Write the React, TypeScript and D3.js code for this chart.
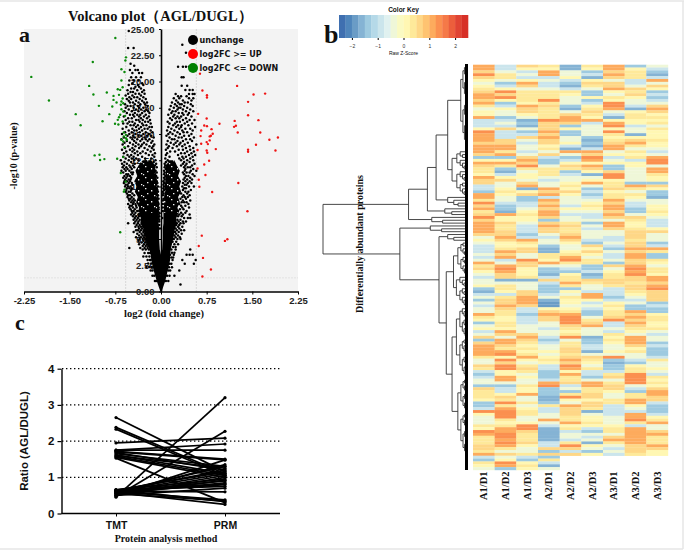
import { useEffect, useRef } from 'react';
import * as d3 from 'd3';

// ---- panel a: volcano ----
const volcanoXTicks = [-2.25, -1.5, -0.75, 0, 0.75, 1.5, 2.25];
const volcanoYTicks = [0, 2.5, 5, 7.5, 10, 12.5, 15, 17.5, 20, 22.5, 25];

const upPoints = [
  [0.64, 20.75], [0.68, 19.14], [0.755, 18.69], [0.755, 18.47], [1.25, 19.58], [1.52, 18.76], [1.71, 18.85],
  [1.43, 18.06], [0.61, 16.92], [1.43, 16.79], [0.75, 16.48], [1.6, 16.32], [1.21, 16.25], [0.96, 15.97],
  [0.71, 15.81], [0.755, 15.75], [1.23, 15.78], [1.2, 15.68], [0.83, 15.46], [0.66, 15.34], [1.26, 15.15],
  [1.63, 15.15], [0.85, 15.02], [0.82, 14.83], [0.65, 14.8], [0.8, 14.77], [1.78, 14.45], [1.92, 14.67],
  [0.8, 14.39], [0.75, 14.23], [0.66, 14.07], [0.77, 14.04], [1.56, 13.97], [0.6, 13.47], [0.9, 13.56],
  [0.75, 13.43], [0.76, 13.21], [1.43, 13.5], [1.43, 13.31], [1.88, 13.43], [0.79, 12.45], [0.71, 12.1],
  [0.6, 11.72], [0.73, 11.09], [0.62, 10.65], [1.27, 10.33], [0.63, 9.98], [0.84, 9.47], [1.42, 7.64],
  [0.67, 5.32], [1.09, 4.97], [1.05, 4.82], [0.62, 4.34], [0.69, 3.2], [0.82, 2.09], [0.68, 1.43],
];

const downPoints = [
  [-0.75, 24.14], [-1.12, 21.86], [-0.575, 22.3], [-0.585, 22.0], [-2.13, 20.44], [-0.65, 21.17], [-0.6, 20.91],
  [-0.65, 20.09], [-1.18, 19.58], [-0.63, 19.45], [-0.71, 19.26], [-0.67, 19.2], [-0.89, 18.95], [-1.11, 18.76],
  [-0.78, 18.63], [-0.69, 18.73], [-0.63, 18.38], [-0.65, 18.09], [-0.62, 17.93], [-0.66, 17.78], [-0.78, 18.25],
  [-0.73, 18.0], [-1.84, 18.19], [-1.02, 17.68], [-0.8, 17.62], [-0.65, 17.36], [-0.62, 17.14], [-0.67, 16.83],
  [-1.4, 16.89], [-0.85, 16.89], [-0.69, 16.6], [-0.71, 16.35], [-0.59, 16.73], [-0.63, 16.19], [-0.96, 16.22],
  [-0.755, 15.97], [-0.7, 15.91], [-1.32, 15.84], [-0.61, 15.15], [-0.575, 14.92], [-0.61, 14.77], [-0.575, 14.6],
  [-0.65, 14.45], [-0.62, 14.29], [-0.56, 14.45], [-0.6, 13.75], [-1.09, 12.96], [-1.01, 13.02], [-1.0, 12.52],
  [-0.93, 12.61], [-0.72, 12.64], [-0.62, 12.8], [-0.66, 11.28], [-0.58, 10.46], [-0.6, 9.7], [-0.61, 9.51],
  [-0.67, 5.64],
];

// unchanged proteins, each row: -log10 p, then |fold change| in hundredths
const leftArmRows = [
  '24.8 53', '23.2 45 54', '21.7 50', '21.5 44', '21.1 38 42 51', '20.8 36 47 31', '20.4 33 41 49', '20.1 45 52 37',
  '19.83 47 31', '19.67 53 38 29', '19.5 42 36', '19.33 49 33 44', '19.17 55 39 28', '19 50 31 46',
  '18.83 54 42 36 27', '18.67 58 47 33', '18.5 44 29 52 39', '18.33 49 25 56 35', '18.17 41 31 53', '18 46 28 37 51 23',
  '17.83 59 43 34 26', '17.67 50 38 22 55', '17.5 45 29 58 36', '17.33 53 41 24 33', '17.17 48 37 27 60 21', '17 56 43 31 19',
  '16.83 51 39 25 46 34', '16.67 61 44 28 36 20', '16.5 54 33 48 23', '16.33 58 41 30 18 37', '16.17 47 35 26 52 21', '16 62 43 31 17 55',
  '15.83 50 38 24 45 29', '15.67 57 33 19 41 15', '15.5 63 47 27 36 22', '15.33 53 40 31 17 44', '15.17 59 35 25 14 48', '15 64 42 29 20 52',
  '14.83 55 37 23 46 16 32', '14.67 61 43 27 12 50', '14.5 65 39 31 19 47 25', '14.33 56 34 22 44 14', '14.17 60 41 28 16 51', '14 63 37 24 11 46 31',
  '13.83 54 42 19 33 13', '13.67 59 36 27 47 15', '13.5 64 44 22 12 51', '13.33 57 39 30 17 47', '13.17 61 34 25 10 43', '13 55 49 38 20 14',
  '12.83 62 45 31 11 52', '12.67 58 41 26 16 48', '12.5 66 53 37 9 44', '12.33 60 49 28 12', '12.17 56 43 33 8 64', '12 61 52 46 10',
  '11.83 63 50 44 7 57', '11.67 55 48 12 60', '11.5 58 52 9 65', '11.33 62 49 46 7', '11.17 54 47 10 57', '11 60 51 8 55',
  '10.83 57 49 6 62', '10.67 53 50 9 59', '10.5 56 51 7 60', '10.33 61 48 6 53', '10.17 55 47 8 58', '10 59 50 5 54',
  '9.83 52 48 7 56', '9.67 57 49 6', '9.5 53 50 5 58', '9.33 56 47 7', '9.17 51 44 5 54', '9 55 48 6',
  '8.83 50 45 4 53', '8.67 47 43 6 52', '8.5 49 45 5', '8.33 54 42 4 46', '8.17 48 41 5 51', '8 46 40 4 52',
  '7.83 50 43 4', '7.67 45 39 5 48', '7.5 47 42 3', '7.33 44 37 4 49', '7.17 41 36 3 46', '7 43 38 4',
  '6.83 40 35 3 45', '6.67 42 37 3', '6.5 38 31 54 44', '6.33 40 35 3', '6.17 33 29 37 42', '6 36 31 2',
  '5.83 38 33 28 41', '5.67 35 29 45', '5.5 32 27 39', '5.33 36 30 26', '5.17 33 28 41', '5 35 26 30',
  '4.83 29 24 37', '4.67 32 26 22', '4.5 28 23 36', '4.33 30 25 21', '4.15 52 27 22 34', '4 25 20 30',
  '3.67 27 21 18', '3.33 24 19 29', '3 22 18 17', '2.67 21 16', '2.33 19 15 24', '2 17 14', '1.5 14 11', '1 10 8',
];

const rightArmRows = [
  '23.5 35', '22.75 41', '21.4 28 36 41 46', '20.4 34 37', '19.6 34 43', '19.2 40 47 52', '18.8 46 52 24 55',
  '18.6 33 42 28', '18.4 21 30 46 53', '18.2 25 36 50', '18 18 28 39 44', '17.83 23 34 49 31', '17.67 16 26 38 52',
  '17.5 21 32 43 29', '17.33 14 27 48 36', '17.17 19 24 41 53', '17 29 35 46 17', '16.83 12 22 37 44', '16.67 27 33 50 20',
  '16.5 15 30 41 24', '16.33 18 36 47 55', '16.17 11 26 31 43', '16 23 39 51 14', '15.83 20 28 45 34', '15.67 12 33 56 25',
  '15.5 17 40 48 30', '15.33 10 22 35 52', '15.17 27 43 15 37', '15 19 31 50 12', '14.83 24 38 46 9', '14.67 14 29 54 34',
  '14.5 18 41 22 48', '14.33 11 27 36 51', '14.17 16 32 44 24', '14 9 21 39 58 30', '13.83 13 26 47 35', '13.67 19 41 53 11',
  '13.5 8 29 36 48', '13.33 15 23 43 54', '13.17 10 33 39 50', '13 8 28 46 56', '12.83 14 35 41 52', '12.67 7 30 48 37',
  '12.5 11 33 43 53', '12.33 8 38 47', '12.17 6 36 42 55', '12 33 51 40 7', '11.83 6 44 38 48', '11.67 40 53 8',
  '11.5 5 39 49 58', '11.33 42 36 6 47', '11.17 38 52 5', '11 41 45 7 55', '10.83 5 39 48', '10.67 43 37 51 6',
  '10.5 4 40 47', '10.33 36 50 5 44', '10.17 39 42 4', '10 46 35 54 5', '9.83 38 41 4', '9.67 36 49 5', '9.5 40 45 3',
  '9.33 33 43 4', '9.17 37 47 3', '9 35 39 44', '8.83 32 41 4', '8.67 36 48 3', '8.5 34 38 42', '8.33 30 45 3',
  '8.17 33 40', '8 35 46 3', '7.83 31 37', '7.67 28 42 3', '7.5 33 40', '7.33 30 36 47', '7.17 28 34', '7 38 44 48 2',
  '6.83 27 32', '6.67 29 36 41', '6.5 26 32 37', '6.33 25 30', '6.17 28 35', '6 24 30', '5.83 26 33 38', '5.67 23 29',
  '5.5 25 34', '5.33 22 28', '5.17 24 31', '5 21 27 32', '4.75 19 25', '4.5 22 28', '4.25 20 24', '4 17 24 48',
  '3.7 18 22', '3.5 15 21 42 47 52', '3.25 17 20', '3 19 35 57', '2.65 14 17 39 54', '2.3 13 18', '2 12 15 30',
  '1.5 10 14 22', '1 8 12', '0.67 32',
];

// where the two arms merge into solid black: -log10 p, outer left, inner left, inner right, outer right
const solidCore = [
  [12.5, -0.3, -0.16, 0.12, 0.22], [12, -0.37, -0.1, 0.08, 0.26], [11.5, -0.42, -0.09, 0.08, 0.31],
  [11, -0.39, -0.08, 0.07, 0.28], [10.5, -0.44, -0.07, 0.07, 0.33], [10, -0.4, -0.06, 0.06, 0.3], [9.5, -0.43, -0.06, 0.06, 0.33],
  [9, -0.38, -0.05, 0.05, 0.28], [8.5, -0.41, -0.05, 0.05, 0.31], [8, -0.36, -0.05, 0.05, 0.27], [7.5, -0.38, -0.04, 0.04, 0.29],
  [7, -0.33, -0.04, 0.04, 0.25], [6.5, -0.34, -0.04, 0.04, 0.26], [6, -0.29, -0.03, 0.03, 0.23], [5, -0.25, -0.03, 0.03, 0.2],
  [4, -0.19, -0.02, 0.02, 0.16], [3.5, -0.17, 0, 0, 0.15], [3, -0.16, 0, 0, 0.15], [2, -0.12, 0, 0, 0.11], [1, -0.07, 0, 0, 0.07],
  [0, -0.01, 0, 0, 0.01],
];
// the part of the arms where the points still leave gaps
const speckledFrom = 7.5;

const legendLabels = ['unchange', 'log2FC >= UP', 'log2FC <= DOWN'];
const legendColors = ['#000000', '#ff0000', '#008000'];

// ---- panel b: heatmap, one string per column, digit = colour level of the row ----
const sampleLabels = ['A1/D1', 'A1/D2', 'A1/D3', 'A2/D1', 'A2/D2', 'A2/D3', 'A3/D1', 'A3/D2', 'A3/D3'];
const heatColumns = [
  '88797 54567 88786 45583 33598 88788 87258 76658 77332 88697 86797 88887 45433 34348 67543 44521 34243 44865 24534 72788 88644 76323 44276 66522 39544 46598 66677 68326 54',
  '33466 42359 79523 54423 43733 37788 68258 62135 74456 54432 21855 76677 87556 87834 89877 14665 36778 76655 66587 48876 89597 99558 84233 57696 89996 56889 98986 47459 82',
  '75343 58746 66658 77541 21423 74344 34787 96455 47815 72233 45655 43332 38657 74497 75556 14447 78887 33233 34447 87656 56854 67645 44655 84464 56644 59976 66754 46325 65',
  '65883 43346 66967 66669 77787 87756 47322 46664 34487 83878 78872 78774 34421 16658 42213 73222 34100 57877 44344 32344 54565 33222 38922 21126 33448 43111 11337 27263 14',
  '11445 32136 54442 14788 72522 44531 84235 76234 45657 54443 54344 67667 87544 56896 43256 68625 46554 56899 97656 94667 76787 98586 67342 69548 77766 85634 43697 37',
  '65231 57642 25235 67658 34444 21213 87985 87514 58423 23456 54334 24344 43275 75466 22312 76443 88534 32246 78444 12233 14765 46332 48866 77577 61455 65324 34154 25',
  '88787 47785 46599 84315 89596 56788 45345 22799 56675 66878 87874 88744 33432 43342 74566 77633 32356 56679 33436 56544 54921 22367 46775 44663 33344 45664 78643 43',
  '25666 33476 75443 15665 53441 57864 65635 54444 42864 65433 22476 55677 76778 78877 89897 76776 54342 28787 87654 88875 64432 56699 99432 66885 43889 63888 88877 76',
  '43213 84752 32347 87565 64655 56554 34899 48865 52752 21445 56543 33574 44238 62265 46658 87897 77723 22566 55643 44232 22364 45436 56578 87732 22356 84478 66687 55',
].map((c) => c.replace(/ /g, ''));
const levelZScores = [-1.9, -1.6, -1.3, -0.9, -0.35, 0.05, 0.35, 0.7, 1.05, 1.4];

const keyTicks = [-2, -1, 0, 1, 2];
const keySwatches = [
  '#3f6fb0', '#4f85bb', '#6a9cc6', '#85b3d4', '#9ecae0', '#b5d9e8', '#cbe5ec', '#e0f1f0', '#eff7d8', '#fafac2',
  '#fff7b3', '#fee99a', '#fed787', '#fec371', '#fdab5d', '#fb9050', '#f57948', '#ec5e3c', '#e04433', '#d73027',
];

// dendrogram skeleton: h = merge height (0 root .. 1 leaves), rows = a run of heatmap rows
type TreeNode = { h: number; rows?: [number, number]; children?: TreeNode[] };
const dendroTree: TreeNode = {
  h: 0,
  children: [
    {
      h: 0.59,
      children: [
        {
          h: 0.72,
          children: [
            {
              h: 0.78,
              children: [
                {
                  h: 0.86,
                  children: [
                    { h: 0.95, rows: [0, 30] },
                    { h: 0.89, rows: [30, 46] },
                  ],
                },
                { h: 0.86, rows: [46, 50] },
              ],
            },
            { h: 0.84, rows: [50, 53] },
          ],
        },
        { h: 0.75, rows: [53, 56] },
      ],
    },
    {
      h: 0.53,
      children: [
        { h: 0.74, rows: [56, 59] },
        {
          h: 0.8,
          children: [
            { h: 0.86, rows: [59, 62] },
            {
              h: 0.85,
              children: [
                {
                  h: 0.9,
                  children: [
                    { h: 0.93, rows: [62, 74] },
                    { h: 0.92, rows: [74, 85] },
                  ],
                },
                {
                  h: 0.89,
                  children: [
                    { h: 0.92, rows: [85, 110] },
                    { h: 0.93, rows: [110, 137] },
                  ],
                },
              ],
            },
          ],
        },
      ],
    },
  ],
};

// ---- panel c: paired ratios ----
const methods = ['TMT', 'PRM'];
const ratioTicks = [0, 1, 2, 3, 4];
const tmtRatios = [
  2.65, 2.38, 2.33, 1.95, 1.75, 1.75, 1.72, 1.7, 1.68, 1.65, 1.62, 1.6, 1.58, 1.55, 1.53, 0.45, 0.47, 0.5, 0.55, 0.6, 0.62,
  0.65, 0.6, 0.55, 0.5, 0.65, 0.6, 0.55, 0.6, 0.65, 0.5, 0.62, 0.6, 0.55, 0.65, 0.58, 0.52, 0.63,
];
const prmRatios = [
  1.15, 1.1, 1.05, 2.08, 1.75, 1.92, 1.5, 1.48, 1.2, 1.3, 1.1, 1.25, 1.05, 1.0, 0.3, 3.2, 2.27, 1.48, 1.35, 1.3, 1.2,
  1.15, 1.1, 1.05, 1.0, 0.95, 0.9, 0.85, 0.8, 0.75, 0.7, 0.6, 0.38, 0.35, 0.33, 0.25, 0.92, 0.82,
];

const SERIF = '"Liberation Serif", serif';
const SANS = '"Liberation Sans", sans-serif';

function parseRows(rows: string[], sign: number): number[][] {
  return rows.flatMap((row) => {
    const [p, ...xs] = row.split(' ').map(Number);
    return xs.map((v) => [(sign * v) / 100, p]);
  });
}

// fan a run of rows out into small brackets so the right edge of the tree gets dense
function expandRows(node: TreeNode): TreeNode {
  if (node.children) return { ...node, children: node.children.map(expandRows) };
  const [start, end] = node.rows as [number, number];
  if (end - start <= 1) return { h: 1, rows: [start, end] };
  const mid = start + Math.max(1, Math.floor((end - start) * 0.45));
  const next = node.h + (1 - node.h) * 0.3;
  return {
    h: node.h,
    children: [expandRows({ h: next, rows: [start, mid] }), expandRows({ h: next, rows: [mid, end] })],
  };
}

export default function App() {
  const svgRef = useRef<SVGSVGElement | null>(null);

  useEffect(() => {
    if (!svgRef.current) return;
    const svg = d3.select(svgRef.current);
    svg.selectAll('*').remove();

    const defs = svg.append('defs');
    defs.append('filter').attr('id', 'stripeBlur').append('feGaussianBlur').attr('stdDeviation', '0 0.7');
    const speck = defs.append('pattern').attr('id', 'speck').attr('patternUnits', 'userSpaceOnUse').attr('width', 13).attr('height', 11);
    speck
      .append('path')
      .attr('d', 'M2,1h1.4v1.3h-1.4zM8,3h1.3v1.4h-1.3zM4,6h1.4v1.2h-1.4zM11,8h1.3v1.3h-1.3zM0,9h1.2v1.2h-1.2z')
      .attr('fill', '#f3f3f3');

    // sheet edges
    svg.append('rect').attr('width', 685).attr('height', 552).attr('fill', '#fff');
    svg.append('path').attr('d', 'M0,1H684M683,1V549M0,549H683').attr('fill', 'none').attr('stroke', '#e6e6e6').attr('stroke-width', 1.5);

    const label = (x: number, y: number, text: string, size: number, font = SERIF, anchor = 'middle', weight = 'bold', rotate = 0) =>
      svg
        .append('text')
        .attr('transform', `translate(${x},${y}) rotate(${rotate})`)
        .attr('text-anchor', anchor)
        .attr('font-family', font)
        .attr('font-size', size)
        .attr('font-weight', weight)
        .attr('fill', '#111')
        .text(text);

    // ---------- a ----------
    const vx = d3.scaleLinear().domain([-2.25, 2.25]).range([24, 298]);
    const vy = d3.scaleLinear().domain([0, 25]).range([291.5, 29]);

    svg.append('rect').attr('x', vx(-2.25)).attr('y', vy(25)).attr('width', vx(2.25) - vx(-2.25)).attr('height', vy(0) - vy(25)).attr('fill', '#f3f3f3');
    [-0.58, 0.58].forEach((v) => {
      svg.append('line').attr('x1', vx(v)).attr('x2', vx(v)).attr('y1', vy(25)).attr('y2', vy(0)).attr('stroke', '#d8d8d8').attr('stroke-dasharray', '2 1');
    });
    svg.append('line').attr('x1', vx(-2.25)).attr('x2', vx(2.25)).attr('y1', vy(1.3)).attr('y2', vy(1.3)).attr('stroke', '#e2e2e2').attr('stroke-dasharray', '2 1');

    const vAxisX = svg
      .append('g')
      .attr('transform', `translate(0,${vy(0)})`)
      .call(d3.axisBottom(vx).tickValues(volcanoXTicks).tickFormat((d) => (d as number).toFixed(2)).tickSize(3).tickSizeOuter(0));
    vAxisX.selectAll('text').attr('font-family', SANS).attr('font-weight', 'bold').attr('font-size', 9.5).attr('fill', '#222').attr('dy', '0.7em');
    vAxisX.select('.domain').attr('stroke-width', 1.4);

    const vAxisY = svg
      .append('g')
      .attr('transform', `translate(${vx(0)},0)`)
      .call(d3.axisLeft(vy).tickValues(volcanoYTicks).tickFormat((d) => (d as number).toFixed(2)).tickSize(2).tickSizeOuter(0));
    vAxisY.selectAll('text').attr('font-family', SANS).attr('font-weight', 'bold').attr('font-size', 9.5).attr('fill', '#222').attr('dx', '-1.5');
    vAxisY.select('.domain').attr('stroke-width', 1.6);

    const coreLeft = d3.area<number[]>().y((d) => vy(d[0])).x0((d) => vx(d[1])).x1((d) => vx(d[2]));
    const coreRight = d3.area<number[]>().y((d) => vy(d[0])).x0((d) => vx(d[3])).x1((d) => vx(d[4]));
    const upperCore = solidCore.filter((d) => d[0] >= speckledFrom);
    svg.append('path').attr('d', coreLeft(solidCore)).attr('fill', '#000');
    svg.append('path').attr('d', coreRight(solidCore)).attr('fill', '#000');
    svg.append('path').attr('d', coreLeft(upperCore)).attr('fill', 'url(#speck)');
    svg.append('path').attr('d', coreRight(upperCore)).attr('fill', 'url(#speck)');

    const dots = (pts: number[][], color: string, r: number) =>
      svg
        .append('g')
        .selectAll('circle')
        .data(pts)
        .join('circle')
        .attr('cx', (d) => vx(d[0]))
        .attr('cy', (d) => vy(d[1]))
        .attr('r', r)
        .attr('fill', color);
    dots([...parseRows(leftArmRows, -1), ...parseRows(rightArmRows, 1)], '#000', 1.25);
    dots(upPoints, '#f01414', 1.2);
    dots(downPoints, '#0a8a0a', 1.2);

    legendLabels.forEach((text, i) => {
      const y = 40 + i * 14;
      svg.append('circle').attr('cx', 193).attr('cy', y).attr('r', 5).attr('fill', legendColors[i]);
      label(199.5, y + 3, text, 8, '"DejaVu Sans", sans-serif', 'start');
    });

    label(68, 21, 'Volcano plot（AGL/DUGL）', 14.5, SERIF, 'start');
    label(164, 317, 'log2 (fold change)', 10.5);
    label(17, 156, '-log10 (p-value)', 10, SERIF, 'middle', 'bold', -90);
    label(19, 42, 'a', 22, SERIF, 'start');
    label(324, 43, 'b', 26, SERIF, 'start');
    label(15, 330, 'c', 22, SERIF, 'start');

    // ---------- b ----------
    const keyScale = d3.scaleLinear().domain([-2.5, 2.5]).range([339, 468]);
    const zColor = d3.scaleQuantize<string>().domain([-2.5, 2.5]).range(keySwatches);
    const swatchW = (keyScale(2.5) - keyScale(-2.5)) / keySwatches.length;
    svg
      .append('g')
      .selectAll('rect')
      .data(keySwatches)
      .join('rect')
      .attr('x', (_, i) => keyScale(-2.5) + i * swatchW)
      .attr('y', 15)
      .attr('width', swatchW + 0.3)
      .attr('height', 23)
      .attr('fill', (d) => d);
    const keyAxis = svg
      .append('g')
      .attr('transform', 'translate(0,38)')
      .call(d3.axisBottom(keyScale).tickValues(keyTicks).tickFormat(d3.format('d')).tickSize(2).tickSizeOuter(0));
    keyAxis.select('.domain').remove();
    keyAxis.selectAll('text').attr('font-family', SANS).attr('font-size', 5).attr('fill', '#333').attr('dy', '0.9em');
    label(403.5, 12, 'Color Key', 6.5, SANS);
    label(403.5, 55, 'Raw Z-Score', 5, SANS, 'middle', 'normal');

    const nRows = d3.max(heatColumns, (c) => c.length) as number;
    const colBand = d3.scaleBand<number>().domain(d3.range(sampleLabels.length)).range([473, 668]);
    const rowBand = d3.scaleBand<number>().domain(d3.range(nRows)).range([64.7, 470]);
    const cells = heatColumns.flatMap((col, c) => col.split('').map((ch, r) => ({ c, r, z: levelZScores[+ch] })));
    svg
      .append('g')
      .attr('filter', 'url(#stripeBlur)')
      .selectAll('rect')
      .data(cells)
      .join('rect')
      .attr('x', (d) => colBand(d.c) as number)
      .attr('y', (d) => rowBand(d.r) as number)
      .attr('width', colBand.bandwidth() + 0.2)
      .attr('height', rowBand.bandwidth() + 0.2)
      .attr('fill', (d) => zColor(d.z));

    sampleLabels.forEach((s, i) => {
      label((colBand(i) as number) + colBand.bandwidth() / 2 + 3.5, 500, s, 10.5, SERIF, 'start', 'bold', -90);
    });
    label(363, 244, 'Differentially abundant proteins', 10, SERIF, 'middle', 'bold', -90);

    // dendrogram
    const dx = d3.scaleLinear().domain([0, 1]).range([323, 468]);
    const root = d3.hierarchy<TreeNode>(expandRows(dendroTree));
    const nodeY = new Map<d3.HierarchyNode<TreeNode>, number>();
    root.eachAfter((n) => {
      if (n.children) {
        nodeY.set(n, (nodeY.get(n.children[0])! + nodeY.get(n.children[n.children.length - 1])!) / 2);
      } else {
        const [a, b] = n.data.rows as [number, number];
        nodeY.set(n, (rowBand(a) as number) + ((b - a) * rowBand.bandwidth()) / 2);
      }
    });
    const treePath = d3.path();
    root.each((n) => {
      if (!n.children) return;
      const ys = n.children.map((k) => nodeY.get(k) as number);
      treePath.moveTo(dx(n.data.h), d3.min(ys) as number);
      treePath.lineTo(dx(n.data.h), d3.max(ys) as number);
      n.children.forEach((k) => {
        treePath.moveTo(dx(n.data.h), nodeY.get(k) as number);
        treePath.lineTo(dx(k.data.h), nodeY.get(k) as number);
      });
    });
    svg.append('path').attr('d', treePath.toString()).attr('fill', 'none').attr('stroke', '#333').attr('stroke-width', 0.9);
    svg.append('line').attr('x1', dx(1) - 1.5).attr('x2', dx(1) - 1.5).attr('y1', 64).attr('y2', 470).attr('stroke', '#000').attr('stroke-width', 3);

    // ---------- c ----------
    const rx = d3.scalePoint<string>().domain(methods).range([116, 225]);
    const ry = d3.scaleLinear().domain([0, 4]).range([513.5, 368.7]);

    [1, 2, 3, 4].forEach((v) => {
      svg.append('line').attr('x1', 62).attr('x2', 280).attr('y1', ry(v)).attr('y2', ry(v)).attr('stroke', '#000').attr('stroke-width', 1.3).attr('stroke-dasharray', '1.4 2.6');
    });

    const pairLine = d3.line<number>().x((_, i) => rx(methods[i]) as number).y((d) => ry(d));
    tmtRatios.forEach((t, i) => {
      svg.append('path').attr('d', pairLine([t, prmRatios[i]])).attr('fill', 'none').attr('stroke', '#000').attr('stroke-width', 1.7);
      svg.append('circle').attr('cx', rx('TMT') as number).attr('cy', ry(t)).attr('r', 1.6).attr('fill', '#000');
      svg.append('circle').attr('cx', rx('PRM') as number).attr('cy', ry(prmRatios[i])).attr('r', 1.6).attr('fill', '#000');
    });

    const rAxisX = svg
      .append('g')
      .attr('transform', `translate(0,${ry(0)})`)
      .call(d3.axisBottom(rx).tickSize(3).tickSizeOuter(0));
    rAxisX.select('.domain').attr('d', 'M61.5,0H280').attr('stroke-width', 1.4);
    rAxisX.selectAll('text').attr('font-family', SANS).attr('font-weight', 'bold').attr('font-size', 10.5).attr('fill', '#111').attr('dy', '0.95em');

    const rAxisY = svg
      .append('g')
      .attr('transform', 'translate(61.5,0)')
      .call(d3.axisLeft(ry).tickValues(ratioTicks).tickFormat(d3.format('d')).tickSize(4).tickSizeOuter(0));
    rAxisY.select('.domain').attr('stroke-width', 1.4);
    rAxisY.selectAll('line').attr('stroke-width', 1.2);
    rAxisY.selectAll('text').attr('font-family', SANS).attr('font-weight', 'bold').attr('font-size', 11.5).attr('fill', '#111');

    label(166, 542, 'Protein analysis method', 10);
    label(28, 441, 'Ratio (AGL/DUGL)', 11.5, SANS, 'middle', 'bold', -90);
  }, []);

  return <svg ref={svgRef} width={685} height={552} style={{ position: 'absolute', left: 0, top: 0 }} />;
}
